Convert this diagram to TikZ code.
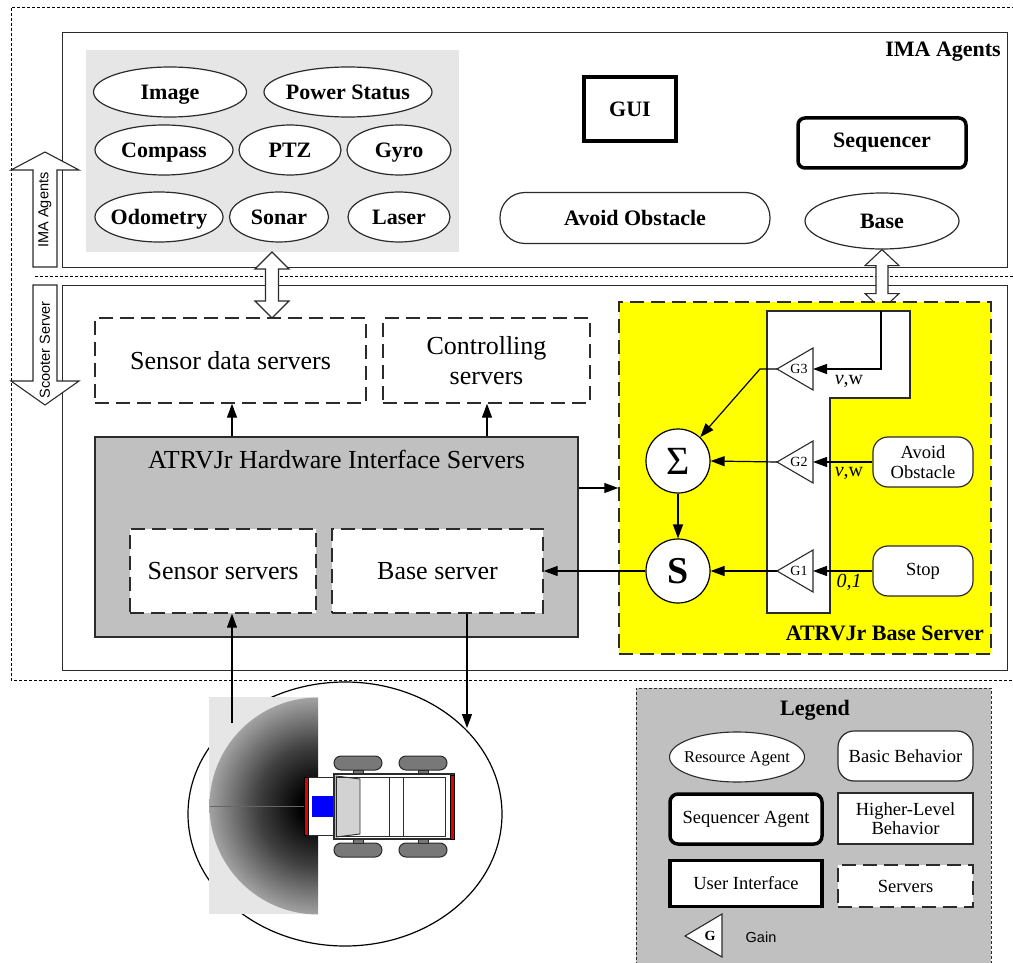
\documentclass[tikz,border=0pt]{standalone}
\usepackage{fontspec}
\setmainfont{Liberation Serif}
\newfontfamily\sansfont{Liberation Sans}
\usetikzlibrary{arrows.meta,shapes.geometric,calc}

\definecolor{ink}{HTML}{2B2B2B}
\definecolor{panelgray}{HTML}{E6E6E6}
\definecolor{boxgray}{HTML}{C0C0C0}
\definecolor{wheelgray}{HTML}{787878}
\definecolor{fanedge}{HTML}{A2A2A2}
\definecolor{fanmid}{HTML}{404040}
\definecolor{sigyellow}{HTML}{FFFF00}
\definecolor{bumperred}{HTML}{E00000}
\definecolor{camblue}{HTML}{0000FF}

% sonar fan: black at the sensor, fading to grey at the range limit
% (the middle 50bp square of a shading is fitted to the shaded path)
\pgfdeclareradialshading{sonarfan}{\pgfpoint{0bp}{0bp}}{color(0bp)=(black); color(4bp)=(black); color(14bp)=(fanmid); color(25bp)=(fanedge); color(50bp)=(fanedge)}

\newcommand{\fsz}[2]{\fontsize{#1}{#2}\selectfont}
\newcommand{\zw}[1]{\makebox[0pt]{#1}}

\tikzset{
  frame/.style={draw=ink, line width=1.3, inner sep=0pt},
  finedash/.style={draw=black, line width=0.9, dash pattern=on 3pt off 2pt},
  res/.style={ellipse, draw=ink, line width=1.2, fill=white, inner sep=0pt,
    minimum height=50, text height=15pt, text depth=0pt, font=\fsz{22}{24}\bfseries},
  thickbox/.style={draw=black, line width=3.5, fill=white, inner sep=0pt},
  behav/.style={draw=ink, line width=1.2, fill=white, inner sep=0pt},
  srv/.style={draw=ink, line width=1.4, dash pattern=on 14pt off 7pt, inner sep=0pt,
    font=\fsz{26}{30}, align=center},
  arr/.style={draw=black, line width=1.2, -{Triangle[length=14pt,width=10pt]}},
  fatarrow/.style={draw=ink, line width=1.1, fill=white, line join=miter},
  gainshape/.style={draw=ink, line width=1.1, fill=white},
  gainlbl/.style={font=\fsz{14}{16}, inner sep=0pt},
  sumnode/.style={circle, draw=black, line width=1.2, fill=white, minimum size=64, inner sep=0pt},
  vwlbl/.style={font=\fsz{20}{22}, inner sep=0pt},
  legtext/.style={font=\fsz{18.5}{21}, align=center},
}

\begin{document}
\begin{tikzpicture}[x=1pt,y=-1pt]
\useasboundingbox (0,0) rectangle (1013,963);

% ---------------- outer dashed frame and layer separator
\draw[finedash] (1020,7) -- (11,7) -- (11,680) -- (1020,680);
\draw[finedash] (35,276) -- (1020,276);

% ---------------- layer frames
\node[frame, minimum width=945, minimum height=235, anchor=north west] (imaframe) at (62,32) {};
\node[frame, minimum width=945, minimum height=385, anchor=north west] (scframe) at (62,285) {};

% ---------------- layer arrows on the left
\draw[fatarrow] (45,152) -- (79,170) -- (57,170) -- (57,267) -- (33,267) -- (33,170) -- (11,170) -- cycle;
\node[rotate=90, font=\sansfont\fsz{14.5}{16}] (imalbl) at (45,210) {IMA Agents};
\draw[fatarrow] (33,285) -- (57,285) -- (57,381) -- (79,381) -- (45,405) -- (11,381) -- (33,381) -- cycle;
\node[rotate=90, font=\sansfont\fsz{14.5}{16}] (sclbl) at (45,350) {Scooter Server};

% ---------------- IMA agents layer
\node[font=\fsz{22}{24}\bfseries, anchor=east, inner sep=0pt] (imatitle) at (1001,52) {IMA Agents};

\node[fill=panelgray, minimum width=373, minimum height=202, anchor=north west, inner sep=0pt] (sensorpanel) at (86,50) {};
\node[res, minimum width=153] (image)   at (170,92)  {\zw{Image}};
\node[res, minimum width=168] (power)   at (348,92)  {\zw{Power Status}};
\node[res, minimum width=138] (compass) at (164,150) {\zw{Compass}};
\node[res, minimum width=102] (ptz)     at (290,150) {\zw{PTZ}};
\node[res, minimum width=104] (gyro)    at (399,150) {\zw{Gyro}};
\node[res, minimum width=128] (odo)     at (159,217) {\zw{Odometry}};
\node[res, minimum width=99]  (sonar)   at (279,217) {\zw{Sonar}};
\node[res, minimum width=102] (laser)   at (399,217) {\zw{Laser}};

\node[thickbox, minimum width=92, minimum height=64, font=\fsz{22}{24}\bfseries] (gui) at (630,109) {GUI};
\node[thickbox, rounded corners=7, minimum width=168, minimum height=50, font=\fsz{22}{24}\bfseries] (seq) at (882,143) {Sequencer};
\node[behav, rounded corners=25, minimum width=270, minimum height=51, font=\fsz{22}{24}\bfseries] (avoidima) at (635,218) {Avoid Obstacle};
\node[res, minimum width=154, minimum height=56] (base) at (882,221) {\zw{Base}};

% ---------------- links between the layers
\coordinate (linkA) at (272,252);
\draw[fatarrow] (linkA) -- ++(17,17) -- ++(-10.5,0) -- ++(0,32) -- ++(10.5,0) -- ++(-17,17)
  -- ++(-17,-17) -- ++(10.5,0) -- ++(0,-32) -- ++(-10.5,0) -- cycle;
\draw[fatarrow] (base.south) -- ++(17,16) -- ++(-11,0) -- ++(0,28) -- ++(11,0) -- ++(-17,16)
  -- ++(-17,-16) -- ++(11,0) -- ++(0,-28) -- ++(-11,0) -- cycle;

% ---------------- scooter server layer
\node[srv, minimum width=271, minimum height=85] (sdata) at (230.5,360.5) {Sensor data servers};
\node[srv, minimum width=207, minimum height=85] (ctrl) at (486.5,360.5) {Controlling\\servers};

\node[draw=ink, line width=1.3, fill=boxgray, minimum width=483, minimum height=200, inner sep=0pt] (hw) at (336.5,537) {};
\node[font=\fsz{26}{30}, inner sep=0pt] (hwtitle) at (336.5,460) {ATRVJr Hardware Interface Servers};
\node[srv, fill=white, minimum width=186, minimum height=84] (ssrv) at (223,571) {Sensor servers};
\node[srv, fill=white, minimum width=211, minimum height=84] (bsrv) at (437.5,571) {Base server};

\coordinate (colA) at (232,0);
\coordinate (colB) at (487,0);
\coordinate (rowA) at (0,488);
\draw[arr] (colA |- hw.north) -- (colA |- sdata.south);
\draw[arr] (colB |- hw.north) -- (colB |- ctrl.south);

% ---------------- base server (yellow)
\node[draw=ink, line width=1.5, dash pattern=on 14pt off 7pt, fill=sigyellow, minimum width=372, minimum height=352, inner sep=0pt] (ybox) at (805,478) {};
\draw[arr] (hw.east |- rowA) -- (ybox.west |- rowA);
\node[font=\fsz{22}{24}\bfseries, anchor=east, inner sep=0pt] (ytitle) at (984,633) {ATRVJr Base Server};

\draw[ink, line width=1.2, fill=white] (767,311) -- (910,311) -- (910,398) -- (830,398) -- (830,613) -- (767,613) -- cycle;

\node[sumnode, font=\fsz{40}{44}] (sig) at (678,461) {Σ};
\node[sumnode, font=\fsz{38}{42}\bfseries] (sout) at (678,571) {S};

\node[behav, rounded corners=15, minimum width=100, minimum height=50, font=\fsz{18.5}{20}, align=center] (avoidy) at (923,462) {Avoid\\Obstacle};
\node[behav, rounded corners=15, minimum width=100, minimum height=50, font=\fsz{18.5}{20}] (stop) at (923,571) {Stop};

% gains
\draw[gainshape] (777,369) -- (813,348) -- (813,390) -- cycle;
\node[gainlbl] (g3) at (799,369) {G3};
\draw[gainshape] (777,462) -- (813,441) -- (813,483) -- cycle;
\node[gainlbl] (g2) at (799,462) {G2};
\draw[gainshape] (777,571) -- (813,550) -- (813,592) -- cycle;
\node[gainlbl] (g1) at (799,571) {G1};
\coordinate (g3tip) at (777,369); \coordinate (g3in) at (813,369);
\coordinate (g2tip) at (777,462); \coordinate (g2in) at (813,462);
\coordinate (g1tip) at (777,571); \coordinate (g1in) at (813,571);
\coordinate (basefeed) at (881,311);
\coordinate (g3bend) at (760,369);

\draw[arr] (basefeed) |- (g3in);
\draw[arr] (g3tip) -- (g3bend) -- (sig.47);
\draw[arr] (avoidy.west) -- (g2in);
\draw[arr] (g2tip) -- (sig.east);
\draw[arr] (stop.west) -- (g1in);
\draw[arr] (g1tip) -- (sout.east);
\draw[arr] (sig.south) -- (sout.north);
\draw[arr] (sout.west) -- (bsrv.east |- sout.west);

\node[vwlbl] (vw3) at (849,381) {\textit{v},w};
\node[vwlbl] (vw2) at (849,473) {\textit{v},w};
\node[vwlbl] (zo1) at (849,582) {\textit{0,1}};

% ---------------- robot with sonar fan
\node[ellipse, draw=black, line width=1.2, fill=white, minimum width=314, minimum height=264, inner sep=0pt] (robotzone) at (345,814) {};
\fill[panelgray] (209,697) rectangle (318,914);
\begin{scope}
  \clip (209,697) rectangle (318,915);
  \shade[shading=sonarfan] (318,806) circle[radius=108.5];
\end{scope}
\draw[black!60, line width=0.5] (210,806) -- (318,806);

% wheels and axles
\foreach \wx in {334,399} {
  \draw[ink, line width=1, fill=wheelgray, rounded corners=7] (\wx,756) rectangle ++(48,14);
  \draw[ink, line width=1, fill=wheelgray, rounded corners=7] (\wx,843) rectangle ++(48,14);
  \draw[ink, line width=0.8, fill=wheelgray] (\wx+19,770) rectangle ++(10,4);
  \draw[ink, line width=0.8, fill=wheelgray] (\wx+19,839) rectangle ++(10,4);
}
% front mount, camera and bumper
\draw[ink, line width=1, fill=white] (304,777) rectangle (334,835);
\fill[camblue] (312,796) rectangle (333,817);
\draw[black, line width=0.8, fill=bumperred] (304,777) rectangle (308,835);
% chassis
\draw[ink, line width=1.2, fill=white] (334,774) rectangle (454,839);
\draw[ink, line width=0.9, fill=gray!35] (336,776) -- (360,779) -- (360,834) -- (336,837) -- cycle;
\draw[ink, line width=0.9] (336,777) rectangle (445,836);
\draw[ink, line width=0.9] (389,777) -- (389,836) (403,777) -- (403,836);
\draw[black, line width=0.8, fill=bumperred] (450,775) rectangle (454,839);

\coordinate (robotout) at (232,723);
\coordinate (robotin) at (467,728);
\draw[arr] (robotout) -- (robotout |- ssrv.south);
\draw[arr] (robotin |- bsrv.south) -- (robotin);

% ---------------- legend
\draw[draw=ink, line width=0.9, dash pattern=on 3pt off 2pt, fill=boxgray] (636,990) -- (636,688) -- (991,688) -- (991,990);
\node[font=\fsz{22}{24}\bfseries] (legtitle) at (815,710) {Legend};
\node[ellipse, draw=ink, line width=1.1, fill=white, minimum width=135, minimum height=50, inner sep=0pt, text height=11pt, text depth=0pt, font=\fsz{16.5}{18}] (lres) at (737,757) {\zw{Resource Agent}};
\node[behav, rounded corners=16, minimum width=135, minimum height=50, legtext] (lbasic) at (905.5,756) {Basic Behavior};
\node[thickbox, rounded corners=8, minimum width=152, minimum height=50, legtext] (lseq) at (746,819) {Sequencer Agent};
\node[behav, minimum width=135, minimum height=51, font=\fsz{18.5}{19}, align=center] (lhigh) at (905.5,818.5) {Higher-Level\\Behavior};
\node[thickbox, minimum width=152, minimum height=46, legtext] (lui) at (746,883.5) {User Interface};
\node[srv, fill=white, minimum width=135, minimum height=42, legtext] (lsrv) at (905.5,886) {Servers};
\draw[gainshape] (685,936) -- (722,914) -- (722,957) -- cycle;
\node[gainlbl, font=\fsz{14}{16}\bfseries] (lg) at (710,936) {G};
\node[font=\sansfont\fsz{14.5}{16}, inner sep=0pt] (lgain) at (761,937) {Gain};

\end{tikzpicture}
\end{document}
